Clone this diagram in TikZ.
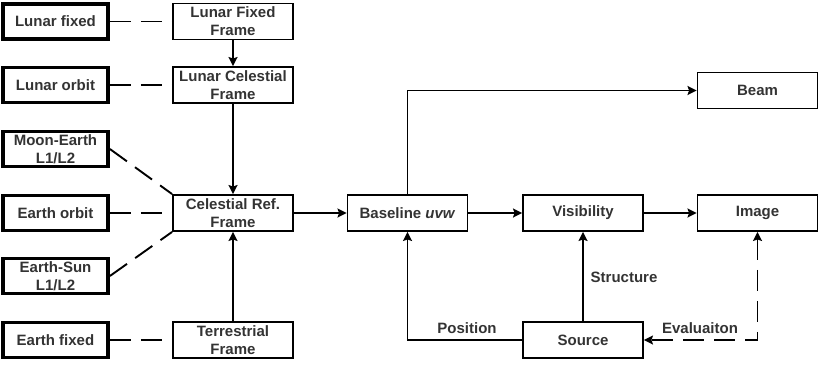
\documentclass[tikz,border=0pt]{standalone}
\usepackage{fontspec}
\setmainfont{Liberation Sans}
\usetikzlibrary{arrows.meta}
\definecolor{txt}{HTML}{333333}
\begin{document}
\begin{tikzpicture}[x=1pt,y=-1pt,
  every node/.style={font=\fontsize{15}{18}\selectfont\bfseries, text=txt},
  src/.style={draw, line width=3.8pt, minimum width=105pt, minimum height=35pt,
    align=center, inner sep=0pt},
  frm/.style={draw, line width=1.9pt, minimum width=120pt, minimum height=36pt,
    align=center, inner sep=0pt},
  link/.style={line width=1.9pt, dash pattern=on 21pt off 10pt},
  tip/.style={Stealth[length=9pt,width=9pt,inset=1.5pt]},
  flow/.style={line width=1.9pt, -{Stealth[length=9pt,width=9pt,inset=1.5pt]}},
  lbl/.style={inner sep=1pt}
]
\useasboundingbox (0,0) rectangle (819,369);

% reference systems (left column)
\node[src] (lfix)  at (55.5,21.5) {Lunar fixed};
\node[src] (lorb)  at (55.5,85)   {Lunar orbit};
\node[src] (mel)   at (55.5,149)  {Moon-Earth\\L1/L2};
\node[src] (eorb)  at (55.5,213)  {Earth orbit};
\node[src] (esl)   at (55.5,276)  {Earth-Sun\\L1/L2};
\node[src] (efix)  at (55.5,340)  {Earth fixed};

% frames (middle column)
\node[frm] (lff)   at (233,21.5) {Lunar Fixed\\Frame};
\node[frm] (lcf)   at (233,85)   {Lunar Celestial\\Frame};
\node[frm] (crf)   at (233,213)  {Celestial Ref.\\Frame};
\node[frm] (tf)    at (233,340)  {Terrestrial\\Frame};

% processing chain
\node[frm] (base)  at (407.5,213) {Baseline \textit{uvw}};
\node[frm] (vis)   at (583,213)   {Visibility};
\node[frm] (img)   at (757.5,213) {Image};
\node[frm] (beam)  at (757.5,90.5) {Beam};
\node[frm] (srcn)  at (583,340)   {Source};

% dashed associations
\draw[link] (lfix.east) -- (lff.west);
\draw[link] (lorb.east) -- (lcf.west);
\draw[link] (mel.east)  -- (crf.north west);
\draw[link] (eorb.east) -- (crf.west);
\draw[link] (esl.east)  -- (crf.south west);
\draw[link] (efix.east) -- (tf.west);

% frame transformations
\draw[flow] (lff) -- (lcf);
\draw[flow] (lcf) -- (crf);
\draw[flow] (tf)  -- (crf);
\draw[flow] (crf) -- (base);
\draw[flow] (base) -- (vis);
\draw[flow] (vis) -- (img);
\draw[flow] (base.north) |- (beam.west);
\draw[flow] (srcn.west) -| (base.south);
\draw[flow] (srcn) -- (vis);
\draw[link, {Stealth[length=9pt,width=9pt,inset=1.5pt]}-{Stealth[length=9pt,width=9pt,inset=1.5pt]}]
  (img.south) |- (srcn.east);

% connector labels
\node[lbl] (lpos) at (467,328) {Position};
\node[lbl] (lstr) at (624,277) {Structure};
\node[lbl] (leva) at (700,328) {Evaluaiton};
\end{tikzpicture}
\end{document}
